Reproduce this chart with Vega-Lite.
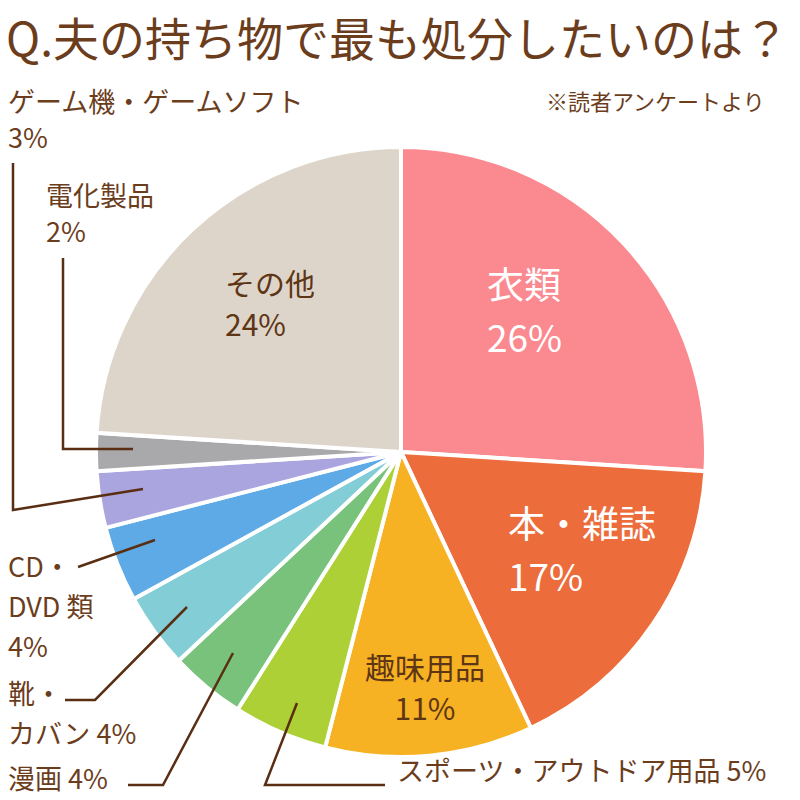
{
  "$schema": "https://vega.github.io/schema/vega-lite/v6.json",
  "width": 800,
  "height": 800,
  "autosize": {"type": "fit", "contains": "padding"},
  "padding": 0,
  "background": "white",
  "config": {"view": {"stroke": null}, "font": "Noto Sans CJK JP"},
  "datasets": {
    "slices": [
      {"idx": 1, "item": "衣類", "pct": 26},
      {"idx": 2, "item": "本・雑誌", "pct": 17},
      {"idx": 3, "item": "趣味用品", "pct": 11},
      {"idx": 4, "item": "スポーツ・アウトドア用品", "pct": 5},
      {"idx": 5, "item": "漫画", "pct": 4},
      {"idx": 6, "item": "靴・カバン", "pct": 4},
      {"idx": 7, "item": "CD・DVD類", "pct": 4},
      {"idx": 8, "item": "ゲーム機・ゲームソフト", "pct": 3},
      {"idx": 9, "item": "電化製品", "pct": 2},
      {"idx": 10, "item": "その他", "pct": 24}
    ],
    "leaders": [
      {"line": "game", "seq": 1, "x": 13, "y": 163},
      {"line": "game", "seq": 2, "x": 13, "y": 510},
      {"line": "game", "seq": 3, "x": 143, "y": 489},
      {"line": "elec", "seq": 1, "x": 63, "y": 258},
      {"line": "elec", "seq": 2, "x": 63, "y": 449},
      {"line": "elec", "seq": 3, "x": 133, "y": 449},
      {"line": "cd", "seq": 1, "x": 78, "y": 567},
      {"line": "cd", "seq": 2, "x": 155, "y": 540},
      {"line": "shoe", "seq": 1, "x": 65, "y": 700},
      {"line": "shoe", "seq": 2, "x": 95, "y": 700},
      {"line": "shoe", "seq": 3, "x": 187, "y": 607},
      {"line": "manga", "seq": 1, "x": 128, "y": 785},
      {"line": "manga", "seq": 2, "x": 163, "y": 785},
      {"line": "manga", "seq": 3, "x": 233, "y": 653},
      {"line": "sport", "seq": 1, "x": 297, "y": 703},
      {"line": "sport", "seq": 2, "x": 265, "y": 785},
      {"line": "sport", "seq": 3, "x": 385, "y": 785}
    ],
    "labels": [
      {"grp": "title", "x": 6, "y": 42, "t": "Q.夫の持ち物で最も処分したいのは？"},
      {"grp": "note", "x": 546, "y": 103, "t": "※読者アンケートより"},
      {"grp": "outerA", "x": 8, "y": 104, "t": ["ゲーム機・ゲームソフト", "3%"]},
      {"grp": "outerA", "x": 46, "y": 198, "t": ["電化製品", "2%"]},
      {"grp": "outerA", "x": 8, "y": 781, "t": "漫画 4%"},
      {"grp": "outerA", "x": 397, "y": 773, "t": "スポーツ・アウトドア用品 5%"},
      {"grp": "outerB", "x": 8, "y": 569, "t": ["CD・", "DVD 類", "4%"]},
      {"grp": "outerB", "x": 8, "y": 696, "t": ["靴・", "カバン 4%"]},
      {"grp": "white", "x": 487, "y": 288, "t": ["衣類", "26%"]},
      {"grp": "white", "x": 508, "y": 527, "t": ["本・雑誌", "17%"]},
      {"grp": "innerL", "x": 225, "y": 286, "t": ["その他", "24%"]},
      {"grp": "innerC", "x": 425, "y": 670, "t": ["趣味用品", "11%"]}
    ]
  },
  "resolve": {"scale": {"x": "shared", "y": "shared"}},
  "layer": [
    {
      "data": {"name": "slices"},
      "mark": {"type": "arc", "outerRadius": 305, "stroke": "white", "strokeWidth": 4},
      "encoding": {
        "theta": {"field": "pct", "type": "quantitative", "stack": true},
        "order": {"field": "idx", "type": "quantitative"},
        "color": {
          "field": "item",
          "type": "nominal",
          "legend": null,
          "scale": {
            "domain": ["衣類", "本・雑誌", "趣味用品", "スポーツ・アウトドア用品", "漫画", "靴・カバン", "CD・DVD類", "ゲーム機・ゲームソフト", "電化製品", "その他"],
            "range": ["#fa8a8f", "#ec6c3c", "#f6b223", "#acd035", "#78c27c", "#82cdd6", "#5eaae6", "#aaa5de", "#a9a9ab", "#ddd5ca"]
          }
        },
        "x": {"datum": 401, "type": "quantitative", "scale": {"domain": [0, 800], "nice": false, "zero": false}, "axis": null},
        "y": {"datum": 452, "type": "quantitative", "scale": {"domain": [0, 800], "nice": false, "zero": false, "reverse": true}, "axis": null}
      }
    },
    {
      "data": {"name": "leaders"},
      "mark": {"type": "line", "color": "#5a2e12", "strokeWidth": 2.5, "strokeJoin": "miter"},
      "encoding": {
        "x": {"field": "x", "type": "quantitative"},
        "y": {"field": "y", "type": "quantitative"},
        "detail": {"field": "line", "type": "nominal"},
        "order": {"field": "seq", "type": "quantitative"}
      }
    },
    {
      "data": {"name": "labels"},
      "transform": [{"filter": "datum.grp === 'title'"}],
      "mark": {"type": "text", "align": "left", "baseline": "middle", "fontSize": 46, "color": "#6b3d1c", "fontWeight": "normal"},
      "encoding": {"x": {"field": "x", "type": "quantitative"}, "y": {"field": "y", "type": "quantitative"}, "text": {"field": "t"}}
    },
    {
      "data": {"name": "labels"},
      "transform": [{"filter": "datum.grp === 'note'"}],
      "mark": {"type": "text", "align": "left", "baseline": "middle", "fontSize": 22, "color": "#6b3d1c"},
      "encoding": {"x": {"field": "x", "type": "quantitative"}, "y": {"field": "y", "type": "quantitative"}, "text": {"field": "t"}}
    },
    {
      "data": {"name": "labels"},
      "transform": [{"filter": "datum.grp === 'outerA'"}],
      "mark": {"type": "text", "align": "left", "baseline": "middle", "fontSize": 27, "lineHeight": 36, "color": "#6b3d1c"},
      "encoding": {"x": {"field": "x", "type": "quantitative"}, "y": {"field": "y", "type": "quantitative"}, "text": {"field": "t"}}
    },
    {
      "data": {"name": "labels"},
      "transform": [{"filter": "datum.grp === 'outerB'"}],
      "mark": {"type": "text", "align": "left", "baseline": "middle", "fontSize": 27, "lineHeight": 40, "color": "#6b3d1c"},
      "encoding": {"x": {"field": "x", "type": "quantitative"}, "y": {"field": "y", "type": "quantitative"}, "text": {"field": "t"}}
    },
    {
      "data": {"name": "labels"},
      "transform": [{"filter": "datum.grp === 'white'"}],
      "mark": {"type": "text", "align": "left", "baseline": "middle", "fontSize": 37, "lineHeight": 53, "color": "white"},
      "encoding": {"x": {"field": "x", "type": "quantitative"}, "y": {"field": "y", "type": "quantitative"}, "text": {"field": "t"}}
    },
    {
      "data": {"name": "labels"},
      "transform": [{"filter": "datum.grp === 'innerL'"}],
      "mark": {"type": "text", "align": "left", "baseline": "middle", "fontSize": 30, "lineHeight": 41, "color": "#5e3515"},
      "encoding": {"x": {"field": "x", "type": "quantitative"}, "y": {"field": "y", "type": "quantitative"}, "text": {"field": "t"}}
    },
    {
      "data": {"name": "labels"},
      "transform": [{"filter": "datum.grp === 'innerC'"}],
      "mark": {"type": "text", "align": "center", "baseline": "middle", "fontSize": 30, "lineHeight": 41, "color": "#5e3515"},
      "encoding": {"x": {"field": "x", "type": "quantitative"}, "y": {"field": "y", "type": "quantitative"}, "text": {"field": "t"}}
    }
  ]
}
